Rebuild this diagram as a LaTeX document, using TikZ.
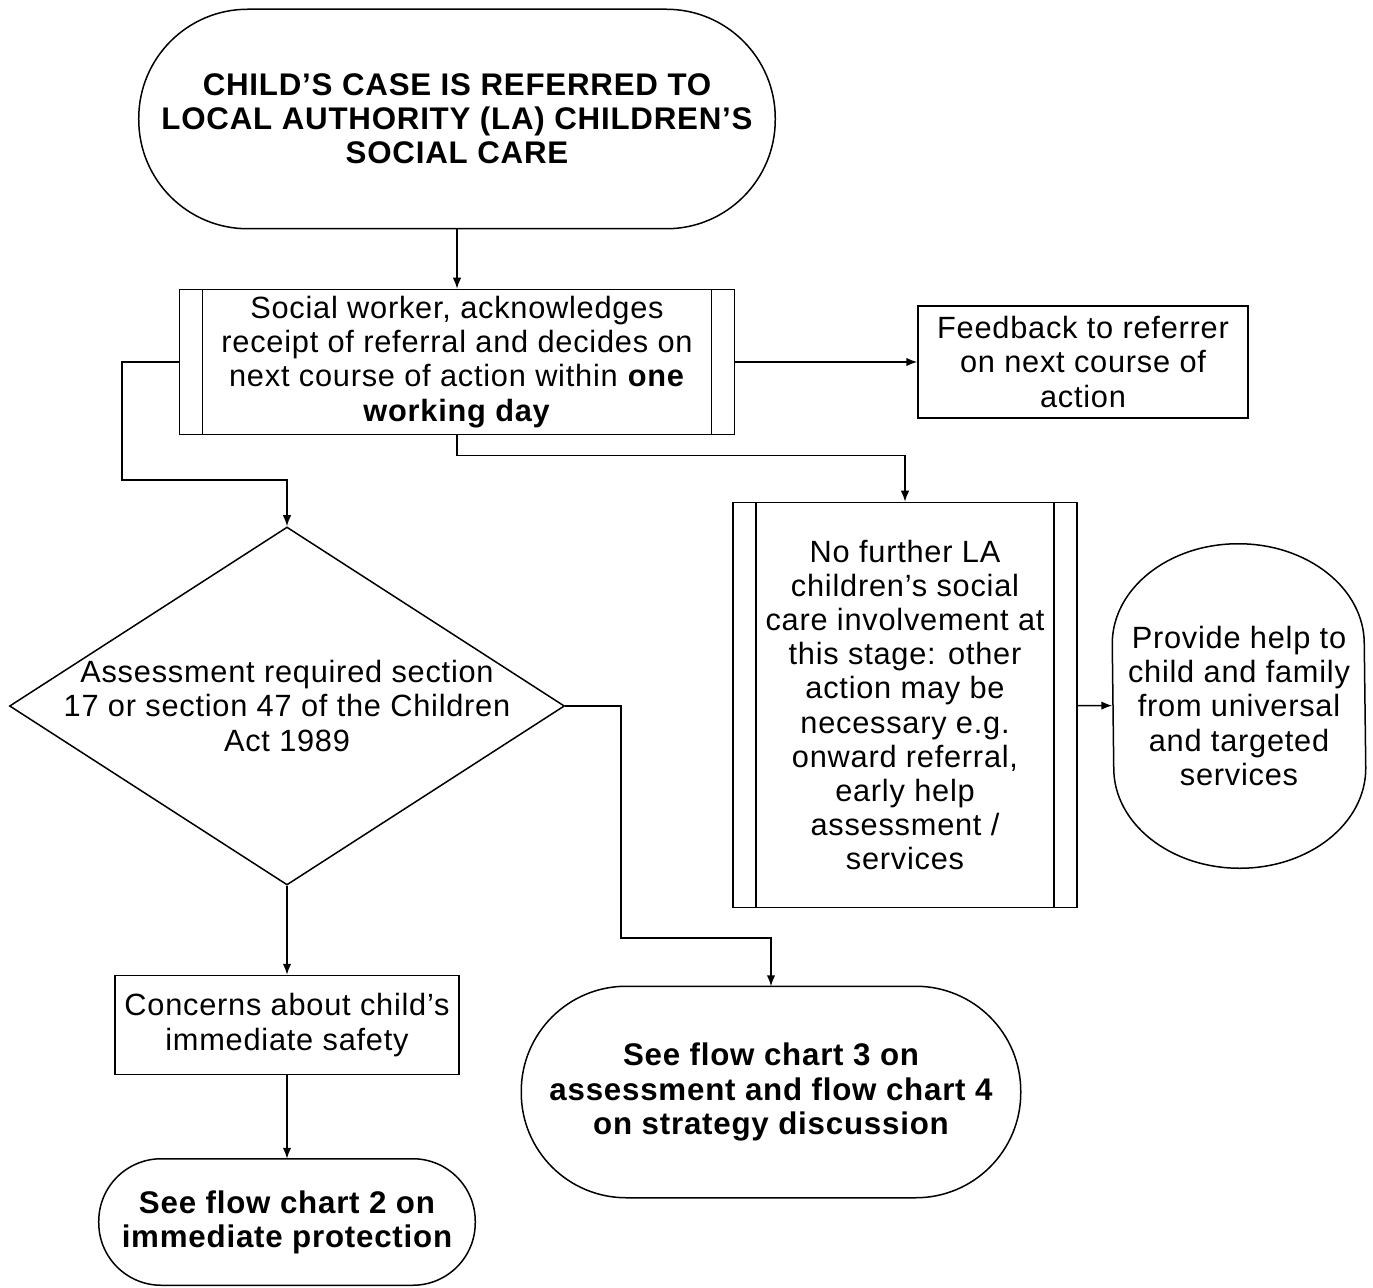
\documentclass[tikz,border=0pt]{standalone}
\usepackage{fontspec}
\setmainfont[LetterSpace=2.5]{Liberation Sans}
\usetikzlibrary{shapes.geometric,arrows.meta}

\begin{document}
\begin{tikzpicture}[x=0.2mm, y=-0.2mm, line width=0.3mm,
   >={Latex[length=2.2mm,width=1.7mm]},
   every node/.style={align=center, font=\fontsize{17.5}{19.4}\selectfont},
   term/.style={rectangle, font=\fontsize{17.8}{19.4}\selectfont\bfseries},
   plainbox/.style={rectangle, draw},
   subproc/.style={rectangle, draw, path picture={
      \draw ([xshift=4.6mm]path picture bounding box.north west) -- ([xshift=4.6mm]path picture bounding box.south west)
            ([xshift=-4.6mm]path picture bounding box.north east) -- ([xshift=-4.6mm]path picture bounding box.south east);}},
   decision/.style={diamond, draw, aspect=1.55, inner sep=-2mm}]
   \useasboundingbox (0,0) rectangle (1373,1288);

   % boxes
   \node[term, minimum width=127mm, minimum height=43.6mm] (start) at (457,119) {CHILD’S CASE IS REFERRED TO\\LOCAL AUTHORITY (LA) CHILDREN’S\\SOCIAL CARE};
   \node[subproc, minimum width=111mm, minimum height=29mm] (sw) at (457,362) {Social worker, acknowledges\\receipt of referral and decides on\\next course of action within \textbf{one}\\\textbf{working day}};
   \node[plainbox, minimum width=66mm, minimum height=22.4mm] (fb) at (1083,362) {Feedback to referrer\\on next course of\\action};
   \node[subproc, minimum width=68.8mm, minimum height=81mm] (nf) at (905,705) {No further LA\\children’s social\\care involvement at\\this stage: other\\action may be\\necessary e.g.\\onward referral,\\early help\\assessment /\\services};
   \node[minimum width=50.4mm, minimum height=64.6mm] (help) at (1239,706) {Provide help to\\child and family\\from universal\\and targeted\\services};
   \node[decision, minimum width=111mm, minimum height=71.6mm] (assess) at (287,706) {Assessment required section\\17 or section 47 of the Children\\Act 1989};
   \node[plainbox, minimum width=68.8mm, minimum height=19.8mm] (safe) at (287,1025) {Concerns about child’s\\immediate safety};
   \node[term, minimum width=99.6mm, minimum height=42mm] (fc3) at (771,1092) {See flow chart 3 on\\assessment and flow chart 4\\on strategy discussion};
   \node[term, minimum width=75mm, minimum height=25mm] (fc2) at (287,1222) {See flow chart 2 on\\immediate protection};

   % rounded outlines
   \foreach \n/\r in {start/21.8, fc3/21, fc2/12.5}
      \draw[rounded corners=\r mm] (\n.north west) rectangle (\n.south east);
   \draw ([yshift=-20mm]help.north west) arc[start angle=180, end angle=0, x radius=25.2mm, y radius=20mm]
      -- ([yshift=20mm]help.south east) arc[start angle=0, end angle=-180, x radius=25.2mm, y radius=20mm] -- cycle;

   % connectors
   \coordinate (lbend) at (122,480);
   \coordinate (dbend) at (621,938);
   \draw[->] (start) -- (sw);
   \draw[->] (sw) -- (fb);
   \draw[->] (sw.south) -- ++(0,20) -| (nf.north);
   \draw[->] (sw.west) -| (lbend) -| (assess.north);
   \draw[->] (nf) -- (help);
   \draw[->] (assess.east) -| (dbend) -| (fc3.north);
   \draw[->] (assess) -- (safe);
   \draw[->] (safe) -- (fc2);
\end{tikzpicture}
\end{document}
